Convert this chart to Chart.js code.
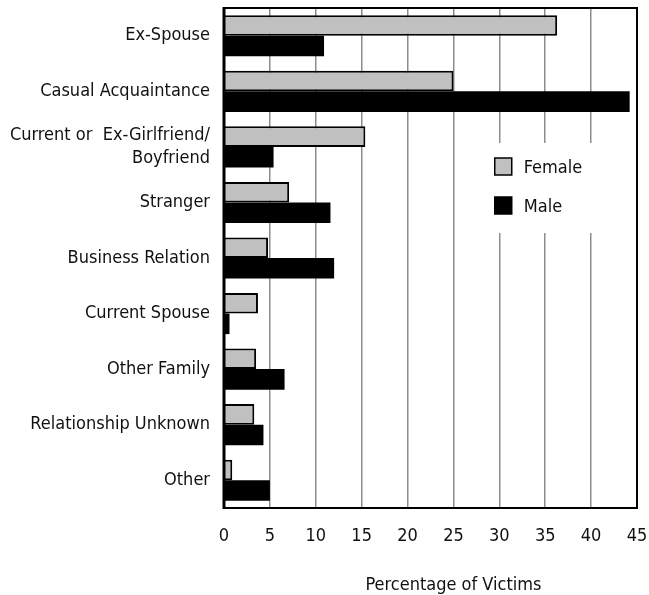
<!DOCTYPE html>
<html>
<head>
<meta charset="utf-8">
<script src="https://cdn.jsdelivr.net/npm/chart.js@4.4.1/dist/chart.umd.min.js"></script>
<style>
  html, body { margin: 0; padding: 0; background: #fff; }
  #wrap { width: 649px; height: 595px; }
</style>
</head>
<body>
<div id="wrap"><canvas id="chart" width="649" height="595"></canvas></div>
<script>
const categories = [
    'Ex-Spouse',
    'Casual Acquaintance',
    ['Current or  Ex-Girlfriend/', 'Boyfriend'],
    'Stranger',
    'Business Relation',
    'Current Spouse',
    'Other Family',
    'Relationship Unknown',
    'Other'
];
const femaleValues = [36.3, 25.0, 15.4, 7.1, 4.8, 3.7, 3.5, 3.3, 0.9];
const maleValues = [10.9, 44.2, 5.4, 11.6, 12.0, 0.6, 6.6, 4.3, 5.0];
const seriesNames = ['Female', 'Male'];
const xTicks = [0, 5, 10, 15, 20, 25, 30, 35, 40, 45];
const axisTitle = 'Percentage of Victims';

const FONT = "'DejaVu Sans Condensed', 'Liberation Sans Narrow', sans-serif";
const FSIZE = 18;
const TEXT = '#111';

// legend box inside plot + frame + axis title
const framePlugin = {
    id: 'framePlugin',
    afterDraw(chart) {
        const ctx = chart.ctx;
        const a = chart.chartArea;
        const xs = chart.scales.x;
        ctx.save();

        // legend, sitting on a white patch over the grid
        const lx = xs.getPixelForValue(29.5);
        ctx.fillStyle = '#fff';
        ctx.fillRect(lx - 32, a.top + 135, 170, 90);
        ctx.font = FSIZE + 'px ' + FONT;
        ctx.textBaseline = 'middle';
        ctx.textAlign = 'left';
        chart.data.datasets.forEach(function(ds, i) {
            const y = a.top + 159 + i * 39;
            ctx.fillStyle = ds.backgroundColor;
            ctx.fillRect(lx, y - 9, 17, 17);
            ctx.lineWidth = 1.5;
            ctx.strokeStyle = '#000';
            ctx.strokeRect(lx, y - 9, 17, 17);
            ctx.fillStyle = TEXT;
            ctx.fillText(ds.label, lx + 29, y + 1);
        });

        // plot frame
        ctx.strokeStyle = '#000';
        ctx.lineWidth = 2;
        ctx.strokeRect(a.left, a.top, a.right - a.left, a.bottom - a.top);
        ctx.lineWidth = 3;
        ctx.beginPath();
        ctx.moveTo(a.left, a.top - 1);
        ctx.lineTo(a.left, a.bottom + 1);
        ctx.stroke();

        // axis title
        ctx.fillStyle = TEXT;
        ctx.textAlign = 'center';
        ctx.textBaseline = 'alphabetic';
        ctx.fillText(axisTitle, xs.getPixelForValue(25), a.bottom + 82);
        ctx.restore();
    }
};

const chartCtx = document.getElementById('chart').getContext('2d');
let mainChart = new Chart(chartCtx, {
    type: 'bar',
    data: {
        labels: categories,
        datasets: [{
            label: seriesNames[0],
            data: femaleValues,
            backgroundColor: '#c0c0c0',
            borderColor: '#000',
            borderWidth: 2,
            borderSkipped: 'start'
        },
        {
            label: seriesNames[1],
            data: maleValues,
            backgroundColor: '#000',
            borderColor: '#000',
            borderWidth: 0
        }]
    },
    options: {
        indexAxis: 'y',
        responsive: false,
        animation: false,
        devicePixelRatio: 1,
        layout: { padding: { top: 8, right: 12, left: 0, bottom: 0 } },
        datasets: {
            bar: { categoryPercentage: 0.74, barPercentage: 1.0 }
        },
        plugins: {
            legend: { display: false },
            tooltip: { enabled: false }
        },
        scales: {
            x: {
                min: 0,
                max: 45,
                afterBuildTicks: function(scale) {
                    scale.ticks = xTicks.map(function(v) { return { value: v }; });
                },
                afterFit: function(scale) {
                    scale.height = 87;
                    scale.paddingLeft = 0;
                    scale.paddingRight = 0;
                },
                grid: {
                    drawTicks: false,
                    color: function(c) {
                        const v = c.tick ? c.tick.value : 0;
                        return (v === 0 || v === 45) ? 'rgba(0,0,0,0)' : '#8c8c8c';
                    },
                    lineWidth: 1.5
                },
                border: { display: false },
                ticks: {
                    padding: 18,
                    color: TEXT,
                    font: { family: FONT, size: FSIZE }
                }
            },
            y: {
                afterFit: function(scale) {
                    scale.width = 224;
                    scale.paddingTop = 0;
                    scale.paddingBottom = 0;
                },
                grid: { display: false, drawTicks: false },
                border: { display: false },
                ticks: {
                    padding: 14,
                    color: TEXT,
                    font: { family: FONT, size: FSIZE, lineHeight: 1.25 }
                }
            }
        }
    },
    plugins: [framePlugin]
});
</script>
</body>
</html>
